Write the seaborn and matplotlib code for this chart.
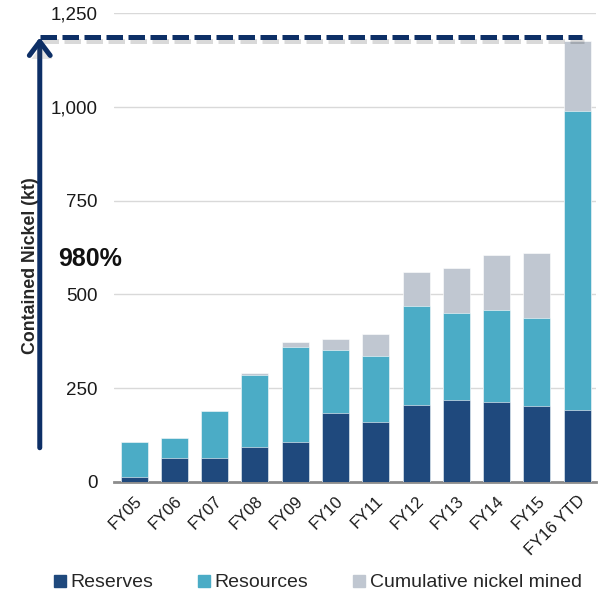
import pandas as pd
import seaborn as sns
import matplotlib.pyplot as plt
import matplotlib.patheffects as pe
from matplotlib.lines import Line2D

years = ["FY05", "FY06", "FY07", "FY08", "FY09", "FY10", "FY11", "FY12",
         "FY13", "FY14", "FY15", "FY16 YTD"]
reserves = [14, 63, 65, 94, 107, 183, 159, 206, 217, 214, 203, 191]
resources = [93, 55, 124, 191, 252, 168, 176, 262, 233, 243, 233, 797]
mined = [0, 0, 0, 5, 14, 29, 60, 91, 119, 147, 174, 188]
target_level = 1185
growth_label = "980%"

c_res = "#1f497d"
c_rsc = "#4bacc6"
c_mined = "#c0c7d1"
c_arrow = "#0d2f66"

df = pd.DataFrame({"year": years, "reserves": reserves,
                   "resources": resources, "mined": mined})
df["lvl2"] = df["reserves"] + df["resources"]
df["lvl3"] = df["lvl2"] + df["mined"]

sns.set_style("white")
plt.rcParams["font.family"] = ["Liberation Sans", "DejaVu Sans"]

fig = plt.figure(figsize=(6.03, 5.92), dpi=100)
ax = fig.add_axes([0.189, 0.186, 0.799, 0.792])

# stacked bars drawn back to front
sns.barplot(data=df, x="year", y="lvl3", color=c_mined, width=0.67,
            saturation=1, edgecolor="white", linewidth=0.4, ax=ax, zorder=2)
sns.barplot(data=df, x="year", y="lvl2", color=c_rsc, width=0.67,
            saturation=1, edgecolor="white", linewidth=0.4, ax=ax, zorder=3)
sns.barplot(data=df, x="year", y="reserves", color=c_res, width=0.67,
            saturation=1, edgecolor="white", linewidth=0.4, ax=ax, zorder=4)

ax.set_ylim(0, 1250)
ax.set_xlim(-0.5, 11.46)
ax.set_yticks([0, 250, 500, 750, 1000, 1250])
ax.set_yticklabels(["0", "250", "500", "750", "1,000", "1,250"])
ax.yaxis.grid(True, color="#d9d9d9", linewidth=1)
ax.set_axisbelow(True)
ax.tick_params(axis="y", length=0, pad=12, labelsize=13.5, colors="#1a1a1a")
ax.tick_params(axis="x", length=0, pad=8, labelsize=12, colors="#1a1a1a")
for lab in ax.get_xticklabels():
    lab.set_rotation(45)
    lab.set_ha("right")
    lab.set_va("top")
    lab.set_rotation_mode("anchor")
for s in ["left", "right", "top"]:
    ax.spines[s].set_visible(False)
ax.spines["bottom"].set_color("#8c8c8c")
ax.spines["bottom"].set_linewidth(2)
ax.set_xlabel("")
ax.set_ylabel("Contained Nickel (kt)", fontsize=12.8, fontweight="bold")
ax.yaxis.set_label_coords(-0.156, 0.461)

lshadow = [pe.SimpleLineShadow(offset=(1.5, -2.5), alpha=0.15, shadow_color="black"),
           pe.Normal()]
pshadow = [pe.SimplePatchShadow(offset=(1.5, -2.5), alpha=0.15), pe.Normal()]

blend = ax.get_yaxis_transform()
ax.plot([-0.154, 0.971], [target_level, target_level], transform=blend,
        color=c_arrow, lw=3.6, dashes=(3.3, 1.1), clip_on=False,
        path_effects=lshadow, zorder=5)
ax.annotate("", xy=(-0.154, target_level), xytext=(-0.154, 91),
            xycoords=blend, textcoords=blend,
            arrowprops=dict(arrowstyle="->,head_length=1.0,head_width=0.75",
                            color=c_arrow, lw=3.6, shrinkA=0, shrinkB=0,
                            path_effects=pshadow),
            annotation_clip=False, zorder=5)

ax.text(-0.05, 0.475, growth_label, transform=ax.transAxes, fontsize=18,
        fontweight="bold", ha="center", va="center", color="#111111")

handles = [Line2D([], [], marker="s", ls="none", markersize=8.5, color=c)
           for c in [c_res, c_rsc, c_mined]]
fig.legend(handles, ["Reserves", "Resources", "Cumulative nickel mined"],
           loc="center", bbox_to_anchor=(0.527, 0.016), ncol=3, frameon=False,
           fontsize=14, handlelength=0.6, handletextpad=0.25,
           columnspacing=2.3)

fig.savefig("out.png", dpi=100)
